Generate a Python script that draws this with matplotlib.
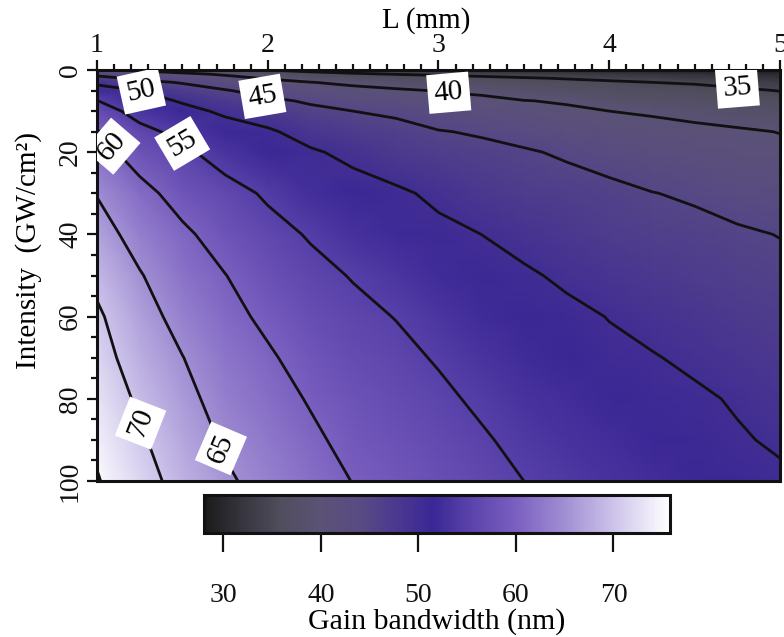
import numpy as np
import matplotlib
matplotlib.use("Agg")
import matplotlib.pyplot as plt
from matplotlib.colors import LinearSegmentedColormap
from matplotlib.ticker import MultipleLocator

plt.rcParams['font.family'] = ['Liberation Serif', 'DejaVu Serif']

# crystal length (mm) and pump intensity (GW/cm^2) grid
L_mm = [1.0, 1.25, 1.5, 1.75, 2.0, 2.25, 2.5, 2.75, 3.0, 3.25, 3.5, 3.75,
        4.0, 4.25, 4.5, 4.75, 5.0]
intensity = [0, 1, 2, 3, 5, 7.5, 10, 15, 20, 30, 40, 50, 60, 70, 80, 90, 100]

# gain bandwidth (nm) down each L column
gb_L100 = [41.0, 43.8, 46.5, 49.0, 52.1, 55.1, 57.0, 60.3, 61.8, 64.8, 66.9, 68.9, 70.7, 71.7, 73.0, 74.2, 75.3]
gb_L125 = [39.5, 41.8, 44.1, 46.1, 50.0, 51.7, 53.5, 56.1, 58.0, 61.4, 63.3, 65.3, 66.7, 68.0, 69.3, 70.6, 71.8]
gb_L150 = [38.0, 40.8, 42.7, 44.7, 46.9, 49.6, 51.2, 53.9, 55.8, 58.3, 60.8, 62.1, 63.6, 65.1, 66.2, 67.3, 68.4]
gb_L175 = [36.6, 39.5, 41.2, 42.6, 45.3, 47.3, 49.3, 51.8, 53.3, 56.4, 58.2, 60.1, 61.2, 62.3, 63.4, 64.5, 65.6]
gb_L200 = [35.0, 37.4, 39.7, 41.1, 43.4, 45.8, 47.5, 50.6, 51.7, 54.5, 56.2, 57.7, 59.2, 60.5, 61.5, 62.6, 63.6]
gb_L225 = [34.3, 35.9, 38.0, 40.1, 42.0, 44.5, 45.9, 48.3, 50.5, 52.5, 54.7, 56.0, 57.3, 58.5, 59.7, 60.7, 61.7]
gb_L250 = [33.5, 35.4, 37.1, 39.2, 41.1, 43.1, 45.0, 46.9, 49.0, 51.6, 53.0, 54.8, 55.9, 56.9, 57.9, 58.9, 59.9]
gb_L275 = [32.7, 34.9, 36.5, 38.0, 40.6, 42.1, 44.3, 46.3, 47.6, 50.6, 51.9, 53.4, 54.9, 55.9, 56.8, 57.8, 58.7]
gb_L300 = [32.0, 34.6, 36.0, 37.3, 39.8, 41.3, 42.7, 45.2, 46.5, 49.3, 50.8, 52.1, 53.4, 54.7, 55.7, 56.6, 57.5]
gb_L325 = [31.5, 33.9, 35.9, 36.6, 39.4, 40.7, 41.9, 44.6, 46.0, 47.9, 50.0, 51.1, 52.2, 53.3, 54.4, 55.4, 56.3]
gb_L350 = [31.0, 33.4, 35.3, 36.2, 38.0, 40.1, 41.2, 43.6, 45.4, 47.0, 48.8, 50.5, 51.3, 52.2, 53.2, 54.1, 55.0]
gb_L375 = [30.5, 32.8, 34.8, 35.9, 37.3, 39.7, 40.5, 42.4, 44.5, 46.6, 47.8, 49.4, 50.8, 51.5, 52.3, 53.2, 54.1]
gb_L400 = [30.0, 32.2, 34.1, 35.6, 36.7, 38.4, 40.0, 41.6, 43.4, 46.0, 47.0, 48.4, 49.9, 50.7, 51.6, 52.4, 53.2]
gb_L425 = [29.6, 31.7, 33.5, 35.0, 36.2, 37.7, 39.65, 41.0, 42.4, 45.1, 46.4, 47.7, 49.0, 50.2, 50.9, 51.7, 52.4]
gb_L450 = [29.3, 31.2, 33.0, 34.7, 36.0, 37.2, 39.0, 40.8, 41.9, 44.5, 46.1, 47.0, 48.2, 49.4, 50.5, 51.0, 51.6]
gb_L475 = [28.9, 30.8, 32.4, 33.9, 35.6, 36.7, 38.0, 40.5, 41.3, 43.5, 45.5, 46.4, 47.4, 48.5, 49.7, 50.3, 51.0]
gb_L500 = [28.5, 30.3, 31.9, 33.2, 34.9, 36.2, 37.4, 39.9, 40.9, 42.9, 44.9, 45.9, 46.8, 47.7, 48.6, 49.6, 50.5]

contour_levels = [35, 40, 45, 50, 55, 60, 65, 70, 75]
labelled_levels = [35, 40, 45, 50, 55, 60, 65, 70]
label_spots = [(4.75, 4.6), (3.06, 5.6), (1.97, 6.1), (1.26, 5.1),
               (1.50, 17.8), (1.09, 18.5), (1.73, 92), (1.25, 86)]
cbar_ticks = [30, 40, 50, 60, 70]

# colour ramp of the colour bar
ramp_vals = [28, 32, 36, 40, 44, 48, 51.5, 55, 60, 65, 70, 75.8]
ramp_cols = ['#1a1a1a', '#38363f', '#514e5e', '#5b5276', '#584b83', '#4a3790',
             '#3b2795', '#5740a8', '#7a5fc0', '#a08ed3', '#ccc2ea', '#ffffff']
vmin, vmax = 28, 75.8

columns = [gb_L100, gb_L125, gb_L150, gb_L175, gb_L200, gb_L225, gb_L250,
           gb_L275, gb_L300, gb_L325, gb_L350, gb_L375, gb_L400, gb_L425,
           gb_L450, gb_L475, gb_L500]
Z = np.array(columns).T
X, Y = np.meshgrid(L_mm, intensity)

cmap = LinearSegmentedColormap.from_list(
    'gb', list(zip([(v - vmin) / (vmax - vmin) for v in ramp_vals], ramp_cols)))

fig = plt.figure(figsize=(7.84, 6.37), dpi=100)
ax = fig.add_axes([0.1237, 0.2449, 0.8712, 0.6452])
cax = fig.add_axes([0.2602, 0.1633, 0.5944, 0.0597])

pcm = ax.pcolormesh(X, Y, Z, cmap=cmap, vmin=vmin, vmax=vmax, shading='gouraud')
cs = ax.contour(X, Y, Z, levels=contour_levels, colors='#111111', linewidths=2.0)
labels = ax.clabel(cs, levels=labelled_levels, manual=label_spots, inline=False,
                   fontsize=21, fmt='%d', colors='black')
for t in labels:
    t.set_bbox(dict(boxstyle='square,pad=0.22', facecolor='white', edgecolor='none'))
    t.set_zorder(5)

ax.set_xlim(1, 5)
ax.set_ylim(100, 0)

ax.xaxis.tick_top()
ax.xaxis.set_label_position('top')
ax.xaxis.set_major_locator(MultipleLocator(1))
ax.xaxis.set_minor_locator(MultipleLocator(0.1))
ax.yaxis.set_major_locator(MultipleLocator(20))
ax.yaxis.set_minor_locator(MultipleLocator(5))
ax.tick_params(axis='x', which='both', top=True, bottom=False, direction='out',
               labelsize=20, pad=2, width=1.6, colors='#111111')
ax.tick_params(axis='y', which='both', left=True, right=False, direction='out',
               labelsize=20, pad=3, width=1.6, labelrotation=90, colors='#111111')
ax.tick_params(which='major', length=7)
ax.tick_params(which='minor', length=4)
for lab in ax.get_yticklabels():
    lab.set_va('center')
for s in ax.spines.values():
    s.set_linewidth(2.2)
    s.set_color('#111111')

ax.set_xlabel('L (mm)', fontsize=21)
ax.xaxis.set_label_coords(0.482, 1.102)
ax.set_ylabel('Intensity  (GW/cm²)', fontsize=21)
ax.yaxis.set_label_coords(-0.08, 0.56)

cb = fig.colorbar(pcm, cax=cax, orientation='horizontal', ticks=cbar_ticks)
cb.outline.set_linewidth(2.2)
cb.outline.set_edgecolor('#111111')
cax.tick_params(axis='x', direction='out', length=14, width=1.6, pad=22,
                labelsize=20, colors='#111111')
cb.set_label('Gain bandwidth (nm)', fontsize=21.5, labelpad=0)

fig.savefig('out.png', dpi=100)
